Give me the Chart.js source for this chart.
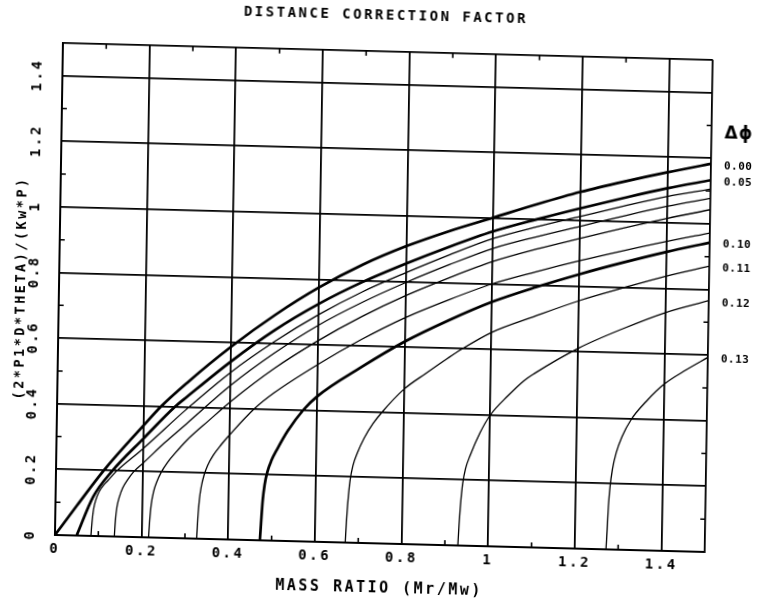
<!DOCTYPE html>
<html>
<head>
<meta charset="utf-8">
<script src="https://cdn.jsdelivr.net/npm/chart.js@4/dist/chart.umd.min.js"></script>
<style>
html,body{margin:0;padding:0;background:#fff;overflow:hidden;width:763px;height:605px;}
canvas{display:block;transform-origin:0 0;transform:matrix(1,0.02615,-0.01626,1,4.8,-9.5);}
</style>
</head>
<body>
<canvas id="c" width="763" height="605"></canvas>
<script>
// ---- texts ----
const titleText = 'DISTANCE CORRECTION FACTOR';
const xAxisTitle = 'MASS RATIO (Mr/Mw)';
const yAxisTitle = '(2*P1*D*THETA)/(Kw*P)';
const legendTitle = 'Δϕ';

// ---- axes ----
const xMax = 1.5;
const yMax = 1.5;
const xTickValues = [0, 0.2, 0.4, 0.6, 0.8, 1.0, 1.2, 1.4];
const xTickLabels = ['0', '0.2', '0.4', '0.6', '0.8', '1', '1.2', '1.4'];
const yTickValues = [0, 0.2, 0.4, 0.6, 0.8, 1.0, 1.2, 1.4];
const yTickLabels = ['0', '0.2', '0.4', '0.6', '0.8', '1', '1.2', '1.4'];
const minorTickValues = [0.1, 0.3, 0.5, 0.7, 0.9, 1.1, 1.3];

// ---- series (delta phi) ----
const seriesNames = ['0.00', '0.05', '0.06', '0.07', '0.08', '0.09', '0.10', '0.11', '0.12', '0.13'];
const labeledSeries = ['0.00', '0.05', '0.10', '0.11', '0.12', '0.13'];
const boldSeries = ['0.00', '0.05', '0.10'];

const d000X = [0, 0.05, 0.11, 0.2, 0.24, 0.3, 0.4, 0.5, 0.6, 0.7, 0.8, 0.9, 1.0, 1.1, 1.2, 1.3, 1.4, 1.5];
const d000Y = [0, 0.092, 0.2, 0.34, 0.4, 0.475, 0.588, 0.688, 0.775, 0.848, 0.908, 0.958, 1.002, 1.046, 1.087, 1.122, 1.154, 1.183];

const d005X = [0.05, 0.087, 0.13, 0.2, 0.272, 0.3, 0.4, 0.5, 0.6, 0.7, 0.8, 0.9, 1.0, 1.1, 1.2, 1.3, 1.4, 1.5];
const d005Y = [0, 0.12, 0.2, 0.30, 0.4, 0.432, 0.543, 0.642, 0.725, 0.795, 0.855, 0.91, 0.96, 1.0, 1.037, 1.072, 1.105, 1.133];

const d006X = [0.083, 0.085, 0.088, 0.093, 0.1, 0.11, 0.12, 0.14, 0.2, 0.3, 0.4, 0.5, 0.6, 0.7, 0.8, 0.9, 1.0, 1.1, 1.2, 1.3, 1.4, 1.5];
const d006Y = [0, 0.04, 0.08, 0.11, 0.135, 0.155, 0.17, 0.2, 0.27, 0.395, 0.51, 0.607, 0.692, 0.765, 0.827, 0.885, 0.938, 0.977, 1.012, 1.047, 1.08, 1.106];

const d007X = [0.137, 0.139, 0.142, 0.147, 0.155, 0.166, 0.18, 0.2, 0.25, 0.3, 0.4, 0.5, 0.6, 0.7, 0.8, 0.9, 1.0, 1.1, 1.2, 1.3, 1.4, 1.5];
const d007Y = [0, 0.05, 0.09, 0.12, 0.15, 0.175, 0.2, 0.225, 0.29, 0.35, 0.47, 0.572, 0.66, 0.733, 0.797, 0.855, 0.908, 0.947, 0.982, 1.017, 1.05, 1.078];

const d008X = [0.216, 0.218, 0.221, 0.226, 0.233, 0.243, 0.257, 0.275, 0.3, 0.35, 0.4, 0.5, 0.6, 0.7, 0.8, 0.9, 1.0, 1.1, 1.2, 1.3, 1.4, 1.5];
const d008Y = [0, 0.05, 0.1, 0.14, 0.17, 0.2, 0.23, 0.26, 0.298, 0.36, 0.42, 0.525, 0.613, 0.69, 0.757, 0.815, 0.868, 0.909, 0.945, 0.98, 1.013, 1.043];

const d009X = [0.327, 0.329, 0.332, 0.336, 0.342, 0.35, 0.362, 0.38, 0.4, 0.455, 0.5, 0.6, 0.7, 0.8, 0.9, 1.0, 1.1, 1.2, 1.3, 1.4, 1.5];
const d009Y = [0, 0.06, 0.12, 0.16, 0.195, 0.225, 0.255, 0.288, 0.32, 0.4, 0.45, 0.54, 0.62, 0.69, 0.748, 0.80, 0.84, 0.877, 0.911, 0.943, 0.972];

const d010X = [0.473, 0.475, 0.478, 0.482, 0.488, 0.497, 0.51, 0.533, 0.568, 0.6, 0.7, 0.8, 0.9, 1.0, 1.1, 1.2, 1.3, 1.4, 1.5];
const d010Y = [0, 0.05, 0.12, 0.17, 0.21, 0.245, 0.28, 0.335, 0.4, 0.443, 0.535, 0.617, 0.685, 0.745, 0.793, 0.836, 0.875, 0.911, 0.943];

const d011X = [0.67, 0.672, 0.675, 0.679, 0.685, 0.695, 0.71, 0.73, 0.75, 0.8, 0.85, 0.9, 0.931, 1.0, 1.1, 1.2, 1.3, 1.4, 1.5];
const d011Y = [0, 0.06, 0.13, 0.19, 0.235, 0.275, 0.32, 0.365, 0.4, 0.472, 0.522, 0.57, 0.598, 0.652, 0.705, 0.755, 0.797, 0.837, 0.871];

const d012X = [0.93, 0.932, 0.935, 0.939, 0.945, 0.955, 0.977, 1.0, 1.04, 1.076, 1.1, 1.2, 1.3, 1.4, 1.5];
const d012Y = [0, 0.06, 0.13, 0.19, 0.235, 0.275, 0.345, 0.4, 0.46, 0.507, 0.53, 0.61, 0.672, 0.726, 0.766];

const d013X = [1.272, 1.274, 1.276, 1.279, 1.284, 1.292, 1.305, 1.325, 1.36, 1.4, 1.45, 1.5];
const d013Y = [0, 0.06, 0.13, 0.19, 0.245, 0.295, 0.345, 0.397, 0.455, 0.508, 0.553, 0.593];

const seriesX = [d000X, d005X, d006X, d007X, d008X, d009X, d010X, d011X, d012X, d013X];
const seriesY = [d000Y, d005Y, d006Y, d007Y, d008Y, d009Y, d010Y, d011Y, d012Y, d013Y];

const MONO = "'DejaVu Sans Mono', 'Liberation Mono', monospace";

const datasets = seriesNames.map((name, i) => ({
  label: name,
  data: seriesX[i].map((x, j) => ({ x: x, y: seriesY[i][j] })),
  borderColor: '#000',
  borderWidth: boldSeries.includes(name) ? 2.7 : 1.3,
  pointRadius: 0,
  fill: false,
  cubicInterpolationMode: 'monotone'
}));

const spacingPlugin = {
  id: 'spacing',
  beforeUpdate(chart) { chart.ctx.letterSpacing = '2.5px'; },
  beforeDraw(chart) { chart.ctx.letterSpacing = '2.5px'; }
};

const minorTickPlugin = {
  id: 'minorTicks',
  afterDatasetsDraw(chart) {
    const ctx = chart.ctx, a = chart.chartArea, xs = chart.scales.x, ys = chart.scales.y;
    const len = 5;
    ctx.save();
    ctx.strokeStyle = '#000';
    ctx.lineWidth = 1.6;
    ctx.beginPath();
    minorTickValues.forEach(v => {
      const px = xs.getPixelForValue(v);
      ctx.moveTo(px, a.bottom); ctx.lineTo(px, a.bottom - len);
      ctx.moveTo(px, a.top); ctx.lineTo(px, a.top + len);
      const py = ys.getPixelForValue(v);
      ctx.moveTo(a.left, py); ctx.lineTo(a.left + len, py);
      ctx.moveTo(a.right, py); ctx.lineTo(a.right - len, py);
    });
    ctx.stroke();
    ctx.restore();
  }
};

const endLabelPlugin = {
  id: 'endLabels',
  afterDraw(chart) {
    const ctx = chart.ctx, a = chart.chartArea, ys = chart.scales.y;
    ctx.save();
    ctx.fillStyle = '#000';
    ctx.textAlign = 'left';
    ctx.textBaseline = 'middle';
    ctx.letterSpacing = '0.5px';
    ctx.font = 'bold 11px ' + MONO;
    let topY = Infinity;
    chart.data.datasets.forEach(ds => {
      if (!labeledSeries.includes(ds.label)) return;
      const last = ds.data[ds.data.length - 1];
      const py = ys.getPixelForValue(last.y);
      ctx.fillText(ds.label, a.right + 13, py + 2);
      topY = Math.min(topY, py);
    });
    ctx.letterSpacing = '1px';
    ctx.font = 'bold 17px ' + "'DejaVu Sans', sans-serif";
    ctx.fillText(legendTitle, a.right + 13, topY - 30);
    ctx.restore();
  }
};

new Chart(document.getElementById('c'), {
  type: 'line',
  data: { datasets: datasets },
  plugins: [spacingPlugin, minorTickPlugin, endLabelPlugin],
  options: {
    responsive: false,
    animation: false,
    layout: { padding: 0 },
    plugins: {
      legend: { display: false },
      tooltip: { enabled: false },
      title: {
        display: true,
        text: titleText,
        color: '#000',
        font: { family: MONO, size: 14, weight: 'bold' },
        padding: { top: 7, bottom: 27 }
      }
    },
    scales: {
      x: {
        type: 'linear',
        min: 0,
        max: xMax,
        afterBuildTicks: s => { s.ticks = xTickValues.concat([xMax]).map(v => ({ value: v })); },
        afterFit: s => { s.height = 62; },
        grid: { color: '#000', lineWidth: 1.8, drawTicks: false },
        border: { color: '#000', width: 2 },
        ticks: {
          color: '#000',
          font: { family: MONO, size: 14, weight: 'bold' },
          padding: 6,
          maxRotation: 0,
          autoSkip: false,
          callback: (v, i) => (xTickLabels[i] !== undefined ? xTickLabels[i] : '')
        },
        title: {
          display: true,
          text: xAxisTitle,
          color: '#000',
          font: { family: MONO, size: 15, weight: 'bold' },
          padding: { top: 0, bottom: 8 }
        }
      },
      y: {
        type: 'linear',
        position: 'left',
        min: 0,
        max: yMax,
        afterBuildTicks: s => { s.ticks = yTickValues.concat([yMax]).map(v => ({ value: v })); },
        afterFit: s => { s.width = 59; },
        grid: { color: '#000', lineWidth: 1.8, drawTicks: false },
        border: { color: '#000', width: 2 },
        ticks: {
          color: '#000',
          font: { family: MONO, size: 14, weight: 'bold' },
          padding: 8,
          minRotation: 90,
          maxRotation: 90,
          crossAlign: 'center',
          autoSkip: false,
          callback: (v, i) => (yTickLabels[i] !== undefined ? yTickLabels[i] : '')
        },
        title: {
          display: true,
          text: yAxisTitle,
          color: '#000',
          font: { family: MONO, size: 13.5, weight: 'bold' },
          padding: { top: 13, bottom: 0 }
        }
      },
      yRight: {
        type: 'linear',
        position: 'right',
        display: true,
        min: 0,
        max: yMax,
        afterFit: s => { s.width = 54; },
        grid: { display: false, drawTicks: false },
        border: { display: false },
        ticks: { display: false }
      }
    }
  }
});
</script>
</body>
</html>
